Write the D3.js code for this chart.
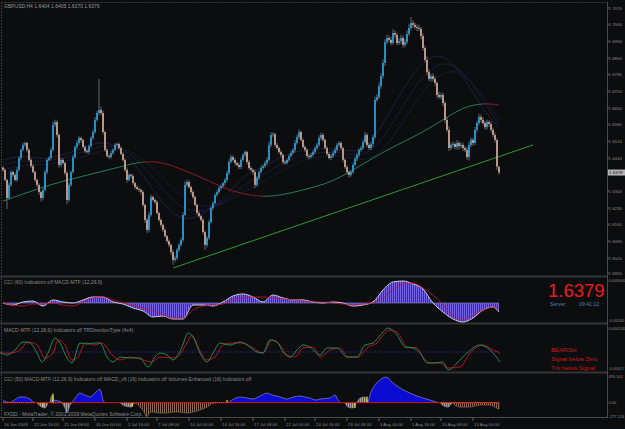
<!DOCTYPE html>
<html><head><meta charset="utf-8">
<script src="https://cdn.jsdelivr.net/npm/d3@7"></script>
<style>body{margin:0;background:#0c0d0f;}svg{display:block;}text{font-family:"Liberation Sans",Arial,sans-serif;}</style>
</head><body><svg id="c" width="625" height="429"></svg>
<script>
// ---------- DATA ----------
const symbolTitle = "GBPUSD,H4  1.6404 1.6405 1.6370 1.6379";
const firstOpen = 1.6400;
const closes = [
1.6390,1.6348,1.6272,1.6327,1.6381,1.6369,1.6348,1.6390,1.6440,1.6474,
1.6495,1.6503,1.6474,1.6432,1.6406,1.6381,1.6348,1.6327,1.6297,1.6272,
1.6306,1.6381,1.6432,1.6440,1.6474,1.6579,1.6591,1.6537,1.6411,1.6432,
1.6419,1.6377,1.6264,1.6327,1.6381,1.6444,1.6486,1.6503,1.6524,1.6516,
1.6486,1.6469,1.6465,1.6490,1.6524,1.6549,1.6600,1.6629,1.6642,1.6629,
1.6549,1.6474,1.6448,1.6444,1.6461,1.6474,1.6495,1.6499,1.6482,1.6457,
1.6432,1.6390,1.6348,1.6369,1.6364,1.6335,1.6318,1.6310,1.6306,1.6297,
1.6243,1.6180,1.6138,1.6201,1.6276,1.6264,1.6255,1.6209,1.6180,1.6159,
1.6138,1.6112,1.6091,1.6075,1.6045,1.6012,1.6020,1.6054,1.6075,1.6096,
1.6201,1.6327,1.6339,1.6318,1.6297,1.6276,1.6243,1.6209,1.6196,1.6180,
1.6129,1.6075,1.6104,1.6171,1.6230,1.6251,1.6285,1.6297,1.6314,1.6322,
1.6335,1.6348,1.6377,1.6423,1.6444,1.6432,1.6419,1.6411,1.6402,1.6432,
1.6453,1.6465,1.6423,1.6398,1.6390,1.6381,1.6327,1.6356,1.6381,1.6398,
1.6406,1.6419,1.6432,1.6495,1.6537,1.6540,1.6495,1.6482,1.6465,1.6453,
1.6423,1.6419,1.6432,1.6448,1.6461,1.6474,1.6503,1.6528,1.6549,1.6516,
1.6486,1.6474,1.6448,1.6444,1.6453,1.6465,1.6482,1.6495,1.6524,1.6537,
1.6516,1.6482,1.6457,1.6440,1.6448,1.6461,1.6474,1.6495,1.6503,1.6482,
1.6432,1.6402,1.6381,1.6369,1.6381,1.6411,1.6436,1.6453,1.6474,1.6482,
1.6507,1.6537,1.6495,1.6482,1.6499,1.6528,1.6684,1.6696,1.6742,1.6784,
1.6839,1.6927,1.6944,1.6936,1.6923,1.6965,1.6957,1.6923,1.6931,1.6944,
1.6915,1.6927,1.6961,1.6986,1.7007,1.6999,1.6990,1.6986,1.6982,1.6952,
1.6902,1.6852,1.6801,1.6772,1.6784,1.6772,1.6755,1.6705,1.6696,1.6705,
1.6671,1.6600,1.6558,1.6482,1.6495,1.6499,1.6486,1.6503,1.6490,1.6495,
1.6482,1.6474,1.6444,1.6495,1.6516,1.6503,1.6558,1.6587,1.6612,1.6600,
1.6587,1.6570,1.6591,1.6583,1.6558,1.6537,1.6516,1.6404,1.6379];
// wick extensions in pips beyond the body
const wickUp = [
6,8,5,10,7,6,9,12,8,7, 10,6,5,8,7,9,6,5,7,6, 8,10,6,9,12,15,10,8,6,9, 7,5,8,10,6,9,7,11,8,6,
5,7,9,6,8,10,12,9,130,14, 10,6,8,7,9,6,8,5,7,9, 6,8,10,7,5,9,6,8,7,6, 8,6,9,12,10,7,6,8,5,7,
6,8,5,7,6,9,10,8,7,9, 12,15,10,8,6,9,7,6,8,5, 7,6,9,10,8,7,6,9,8,7, 6,8,10,12,9,7,8,6,9,10,
8,7,6,9,7,6,10,8,7,9, 8,10,12,14,11,9,7,8,6,9, 7,8,6,9,10,8,12,9,11,7, 6,8,7,9,10,8,7,9,11,10,
8,6,9,7,8,10,12,9,8,7, 6,8,9,7,6,9,10,8,7,9, 10,12,8,9,7,10,14,12,16,13, 15,12,14,10,12,16,11,10,12,14,
10,12,14,18,25,12,10,11,14,9, 12,10,14,11,9,12,10,8,13,9, 10,8,12,14,9,10,8,12,9,11, 10,9,12,14,10,9,12,10,14,11,
12,9,10,8,11,9,10,6,1];
const wickDn = [
8,6,46,7,9,10,6,8,7,9, 6,8,10,7,9,6,8,10,12,14, 9,7,10,6,8,7,9,10,12,8, 7,9,18,10,8,6,7,9,8,10,
6,8,7,9,6,8,7,6,9,8, 10,8,6,9,7,8,6,9,7,6, 8,9,12,7,10,8,9,6,8,10, 9,13,13,10,8,7,9,6,8,10,
9,7,8,10,12,21,9,8,10,7, 8,6,9,7,10,8,6,9,7,8, 9,21,10,8,7,9,6,8,7,9, 8,10,7,9,6,8,10,7,9,8,
6,9,10,8,7,12,14,8,9,6, 8,7,9,6,10,8,9,7,8,10, 9,8,7,9,6,8,10,7,9,8, 7,9,8,10,6,8,7,9,8,10,
9,7,8,6,10,8,9,7,8,9, 10,8,9,12,7,8,6,9,10,8, 9,7,10,8,9,12,10,8,9,11, 10,12,9,11,10,8,12,10,9,11,
12,10,9,8,10,11,9,12,10,14, 12,10,13,9,11,10,12,14,9,10, 12,14,10,13,9,11,10,12,14,10, 12,9,11,14,10,12,9,11,10,12,
9,11,10,12,9,10,12,14,9];
const priceTicks = [1.7070,1.7000,1.6930,1.6860,1.6790,1.6720,1.6650,1.6580,1.6510,1.6440,1.6300,1.6230,1.6160,1.6090,1.6020,1.5955];
const lastPrice = 1.6379;
// moving averages sampled at bar indices
const maIdx = [0,10,20,30,40,50,60,70,80,90,100,110,120,130,140,150,160,170,180,190,200,210,220,230,240,248];
const maSlow = [1.6259,1.6289,1.6318,1.6343,1.6364,1.6385,1.6406,1.6427,1.6423,1.6390,1.6356,1.6314,1.6289,1.6276,1.6285,1.6306,1.6327,1.6364,1.6415,1.6465,1.6507,1.6549,1.6600,1.6654,1.6671,1.6663];
const maDot1 = [1.6432,1.6453,1.6432,1.6453,1.6482,1.6516,1.6474,1.6369,1.6243,1.6171,1.6201,1.6264,1.6369,1.6398,1.6453,1.6474,1.6482,1.6474,1.6461,1.6579,1.6734,1.6852,1.6885,1.6789,1.6642,1.6566];
const maDot2 = [1.6411,1.6432,1.6423,1.6440,1.6465,1.6495,1.6482,1.6411,1.6306,1.6222,1.6213,1.6251,1.6327,1.6369,1.6423,1.6453,1.6465,1.6465,1.6440,1.6516,1.6663,1.6789,1.6852,1.6810,1.6684,1.6579];
const maDot3 = [1.6390,1.6411,1.6411,1.6423,1.6444,1.6474,1.6482,1.6440,1.6356,1.6272,1.6230,1.6243,1.6297,1.6339,1.6390,1.6432,1.6448,1.6453,1.6423,1.6465,1.6591,1.6726,1.6810,1.6801,1.6705,1.6600];
const trendIdx = [85,265];
const trendPrice = [1.5978,1.6495];
// panel 2: MACD histogram + signal (units of 1e-4)
const p2Idx = [0,5,10,15,20,25,30,35,40,45,50,55,60,65,70,75,80,85,90,95,100,105,110,115,120,125,130,135,140,145,150,155,160,165,170,175,180,185,190,195,200,205,210,215,220,225,230,235,240,245,248];
const macdMain = [0,-2.5,1.3,2.5,-3.8,3.8,1.3,0,3.8,7.5, 7.5,1.3,-1.3,-6.3,-10,-17.5,-16.3,-20,-20,-2.5, -2.5,-3.8,1.3,8.8,11.3,7.5,1.3,10,6.3,3.8, 3.8,1.3,0,1.3,0,-3.8,-2.5,1.3,16.3,26.3, 27.5,23.8,17.5,0,-11.3,-20,-23.8,-18.8,-8.8,-5, -11.3];
const macdSignal = [0,-2.5,-3.8,-1.3,-1.3,0,-2.5,-3.8,1.3,6.3, 7.5,3.8,0,-2.5,-6.3,-10,-15,-18.8,-18.8,-8.8, -3.8,-2.5,-1.3,3.8,6.3,7.5,7.5,6.3,5,3.8, 2.5,1.3,1.3,0,-1.3,-2.5,-1.3,0,6.3,17.5, 23.8,25,18.8,10,-2.5,-15,-21.3,-15,-8.8,-5, -6.3];
const p2Labels = ["0.003000","-0.00240"];
// panel 3: MACD-MTF lines [barIndex, value]
const p3Green = [[-1.5,0],[2,-3],[6,2],[10,10],[13.5,9],[17,-1],[19.5,-10],[22.5,-1],[26,14],[28.5,9],[32,-6],[34.5,-11],[38.5,9],[42,8],[46,9],[48.5,9],[52,-5],[55,-10],[58.5,-5],[63.5,-6],[68.5,-6],[72.5,-15],[76,-5],[78.5,-1],[82,-3],[85,-8],[89.5,5],[92.5,19],[95,15],[98.5,-1],[102,-10],[105,-1],[108.5,9],[113.5,7],[118.5,10],[122,7],[127,0],[130,-1],[133.5,12],[137,10],[140,0],[143.5,-5],[147,2],[150,7],[153.5,5],[158.5,-3],[162,4],[167,4],[172,-5],[177,-5],[181,7],[185,9],[189.5,19],[192.5,24],[197,17],[201,5],[205,4],[208.5,-1],[212,-11],[216,-11],[220,-10],[222.5,-18],[227,-11],[232,-1],[238.5,7],[243.5,2],[248.5,-10]];
const p3Red = [[-1.5,-1],[3.5,-1],[8.5,2],[12.5,10],[17,7],[21,-6],[25,-1],[27.5,12],[31,7],[34.5,-8],[37.5,-5],[41,9],[46,7],[49.5,9],[54.5,-3],[58.5,-8],[63.5,-5],[68.5,-7],[74.5,-10],[78.5,-5],[83.5,-6],[87,-5],[92,9],[94.5,17],[97.5,5],[102,-8],[106,-5],[110,7],[115,9],[120,9],[125,4],[130,-1],[134.5,12],[138.5,7],[142,-3],[146,-5],[150,4],[155,5],[158.5,-5],[163.5,2],[168.5,4],[172.5,-5],[177.5,-5],[182.5,5],[187,9],[190,17],[193.5,22],[197.5,19],[202,5],[207,4],[210,-5],[213.5,-11],[218.5,-11],[222.5,-16],[228.5,-15],[233.5,-1],[240,7],[245,2],[248.5,-1]];
const p3Labels = ["0.000240","-0.00017"];
const p3Status = ["BEARISH","Signal below Zero","Trix below Signal"];
// panel 4: histogram regions [barIndex, value]
const p4Blue = [
 [[0,50],[1.5,15],[3.5,5],[5,30],[8.5,110],[11,105],[13.5,70],[15.5,0]],
 [[24.5,0],[26,45],[28.5,20],[29.5,0]],
 [[34.5,0],[36,85],[38.5,185],[41,145],[43.5,110],[46,185],[48.5,260],[50,50],[51,0]],
 [[112.5,0],[114.5,50],[118.5,108],[122,89],[125,69],[128.5,127],[132,185],[134.5,147],[137,127],[140,89],[142,69],[145,108],[148.5,127],[151,108],[153.5,89],[156.5,50],[158.5,69],[163.5,89],[166,147],[167.5,50],[168.5,0]],
 [[182.5,0],[183.5,147],[186,340],[188.5,436],[191.5,494],[194.5,398],[198.5,282],[203.5,185],[208.5,108],[213.5,50],[217.5,0]]];
const p4Gray = [
 [[17,0],[18.5,-66],[21,-104],[22.5,0]],
 [[23.5,0],[24.5,146],[25.5,0]],
 [[29.5,0],[31,-104],[32,-200],[33.5,-46],[34.5,0]],
 [[58.5,0],[61,-66],[64,-85],[65.5,0]],
 [[171,0],[172.5,-85],[175,-104],[176.5,0]],
 [[177,0],[178.5,89],[181,108],[182.5,0]],
 [[218.5,0],[220.5,-66],[222.5,-85],[224.5,0]]];
const p4Brown = [
 [[65,0],[67,-27],[68.5,-85],[70,-143],[72,-270],[73.5,-181],[75,-181],[78.5,-200],[82,-200],[85,-181],[88.5,-181],[92,-200],[95,-181],[98.5,-143],[102,-85],[105,-10],[106,0]],
 [[224.5,0],[226,-46],[228.5,-85],[233.5,-85],[238.5,-46],[243.5,-46],[246,-85],[248,-124],[248,0]]];
const p4Yellow = [[20,0,-85],[25,-10,175],[64.5,-8,-85],[112,0,50],[176,-8,-104],[182,0,120]];
const p4GreenZero = [[0,16],[24,30],[105,113],[219,248]];
const p4Labels = [495.101,0,-277.126];
// time axis
const timeIdx = [0,15,30,46,62,77,93,109,125,141,156,172,188,204,219,235];
const timeLabels = ["16 Jun 2009","22 Jun 16:00","25 Jun 08:00","30 Jun 00:00","2 Jul 16:00","7 Jul 08:00","10 Jul 00:00","14 Jul 16:00","17 Jul 08:00","22 Jul 00:00","24 Jul 16:00","29 Jul 08:00","3 Aug 00:00","5 Aug 16:00","10 Aug 08:00","13 Aug 00:00"];

// ---------- DRAW ----------
const svg = d3.select("#c");
const W = 625, H = 429;
svg.append("rect").attr("width", W).attr("height", H).attr("fill", "#0c0d0f");
const defs = svg.append("defs");
function stripes(id, c1, c2){
  const p = defs.append("pattern").attr("id", id).attr("patternUnits","userSpaceOnUse").attr("width",2).attr("height",4);
  if (c2) p.append("rect").attr("width",2).attr("height",4).attr("fill",c2);
  p.append("rect").attr("width",1).attr("height",4).attr("fill",c1);
}
stripes("hHist", "#7563e6", "#3a2f8c");
stripes("hBrown", "#8c6a4c", null);
stripes("hGray", "#a4a4a4", "#5c5c5c");

const xB = d3.scaleLinear().domain([0,248]).range([3,499]);
const yP = d3.scaleLinear().domain([1.5955,1.7070]).range([273.5,8]);
const axisCol = "#8a8a8a";
function axisText(y, txt, fs){
  svg.append("text").attr("x",608.5).attr("y",y).attr("dy","0.35em").attr("font-size",fs||4).attr("fill",axisCol).text(txt);
}

// frame lines
svg.append("line").attr("x1",1.5).attr("x2",1.5).attr("y1",2).attr("y2",418).attr("stroke","#3a3a3a").attr("stroke-dasharray","2,1");
svg.append("line").attr("x1",1.5).attr("x2",607).attr("y1",2.5).attr("y2",2.5).attr("stroke","#3a3a3a").attr("stroke-dasharray","2,1");
svg.append("line").attr("x1",607.5).attr("x2",607.5).attr("y1",2).attr("y2",418).attr("stroke","#4a4a4a");
[276.5,323.5,372.5].forEach(y=>svg.append("rect").attr("x",0).attr("y",y-1).attr("width",607).attr("height",2).attr("fill","#353535"));
svg.append("line").attr("x1",0).attr("x2",607).attr("y1",417.5).attr("y2",417.5).attr("stroke","#4a4a4a");

// title
svg.append("text").attr("x",4).attr("y",7.5).attr("font-size",5).attr("fill","#9a9a9a").text(symbolTitle);

// main panel
const main = svg.append("g");
const clipM = defs.append("clipPath").attr("id","clipM");
clipM.append("rect").attr("x",2).attr("y",3).attr("width",605).attr("height",272);
const gm = main.append("g").attr("clip-path","url(#clipM)");

// slow MA with slope-based gradient
const slowPts = maIdx.map((d,i)=>[d, maSlow[i]]);
const grad = defs.append("linearGradient").attr("id","gSlow").attr("gradientUnits","userSpaceOnUse")
  .attr("x1",xB(0)).attr("x2",xB(248)).attr("y1",0).attr("y2",0);
const up = "#1f7d55", dn = "#8a1a24";
let prevUp = maSlow[1] > maSlow[0];
grad.append("stop").attr("offset",0).attr("stop-color", prevUp?up:dn);
for (let i=1;i<maSlow.length-1;i++){
  const u = maSlow[i+1] > maSlow[i];
  if (u !== prevUp){
    const off = (maIdx[i])/248;
    grad.append("stop").attr("offset",off-0.01).attr("stop-color", prevUp?up:dn);
    grad.append("stop").attr("offset",off+0.01).attr("stop-color", u?up:dn);
    prevUp = u;
  }
}
grad.append("stop").attr("offset",1).attr("stop-color", prevUp?up:dn);
const lineP = d3.line().x(d=>xB(d[0])).y(d=>yP(d[1])).curve(d3.curveBasis);
[maDot1, maDot2, maDot3].forEach((arr,k)=>{
  gm.append("path").attr("d", lineP(maIdx.map((d,i)=>[d,arr[i]]))).attr("fill","none")
    .attr("stroke", ["#3a3a8c","#32327a","#2c2c6a"][k]).attr("stroke-width",0.8).attr("stroke-dasharray","1.2,1.3");
});
gm.append("path").attr("d", lineP(slowPts)).attr("fill","none").attr("stroke","url(#gSlow)").attr("stroke-width",1);

// trend line
gm.append("line").attr("x1",xB(trendIdx[0])).attr("y1",yP(trendPrice[0])).attr("x2",xB(trendIdx[1])).attr("y2",yP(trendPrice[1]))
  .attr("stroke","#2f9a2f").attr("stroke-width",1);

// candles
const bars = closes.map((c,i)=>{
  const o = i ? closes[i-1] : firstOpen;
  return {i, o, c, h: Math.max(o,c)+wickUp[i]*1e-4, l: Math.min(o,c)-wickDn[i]*1e-4};
});
gm.selectAll("line.wick").data(bars).join("line").attr("class","wick")
  .attr("x1",d=>xB(d.i)).attr("x2",d=>xB(d.i)).attr("y1",d=>yP(d.h)).attr("y2",d=>yP(d.l))
  .attr("stroke","#8e8e8e").attr("stroke-width",0.7);
gm.selectAll("rect.body").data(bars).join("rect").attr("class","body")
  .attr("x",d=>xB(d.i)-0.8).attr("width",1.6)
  .attr("y",d=>yP(Math.max(d.o,d.c))).attr("height",d=>Math.max(0.7, Math.abs(yP(d.o)-yP(d.c))))
  .attr("fill",d=>d.c>=d.o ? "#22a6ec" : "#d9ad9b");

// price axis
priceTicks.forEach(p=>{
  svg.append("line").attr("x1",607).attr("x2",609).attr("y1",yP(p)).attr("y2",yP(p)).attr("stroke","#555");
  axisText(yP(p), p.toFixed(4), 4.4);
});
svg.append("rect").attr("x",608).attr("y",yP(lastPrice)-3).attr("width",17).attr("height",6).attr("fill","#b4b4b4");
svg.append("text").attr("x",609).attr("y",yP(lastPrice)).attr("dy","0.35em").attr("font-size",4.4).attr("fill","#111").text(lastPrice.toFixed(4));

// ---------- panel 2 ----------
const y2 = d3.scaleLinear().domain([-24,30]).range([322.2,279]);
const p2main = p2Idx.map((d,i)=>[d, macdMain[i]]);
const p2sig = p2Idx.map((d,i)=>[d, macdSignal[i]]);
const c2 = d3.curveMonotoneX;
svg.append("path").attr("d", d3.area().x(d=>xB(d[0])).y0(y2(0)).y1(d=>y2(d[1])).curve(c2)(p2main)).attr("fill","url(#hHist)");
svg.append("line").attr("x1",xB(0)).attr("x2",xB(248)).attr("y1",y2(0)).attr("y2",y2(0)).attr("stroke","#8a86c8").attr("stroke-width",0.6);
svg.append("path").attr("d", d3.line().x(d=>xB(d[0])).y(d=>y2(d[1])).curve(c2)(p2main)).attr("fill","none").attr("stroke","#c8c8dc").attr("stroke-width",1);
svg.append("path").attr("d", d3.line().x(d=>xB(d[0])).y(d=>y2(d[1])).curve(c2)(p2sig)).attr("fill","none").attr("stroke","#c8143c").attr("stroke-width",0.8);
svg.append("text").attr("x",4).attr("y",283.5).attr("font-size",5).attr("fill","#8a8a8a").text("CCI (60)    Indicators off    MACD-MTF (12,26,9)");
axisText(281, p2Labels[0]);
axisText(321, p2Labels[1]);
svg.append("text").attr("x",548).attr("y",297).attr("font-size",18.5).attr("fill","#ee1a1a").text(lastPrice.toFixed(4));
svg.append("text").attr("x",550).attr("y",305.5).attr("font-size",5.2).attr("fill","#5b7ea8").text("Server:");
svg.append("text").attr("x",579).attr("y",305.5).attr("font-size",5.2).attr("fill","#5b7ea8").text("09:41:12");

// ---------- panel 3 ----------
const y3 = d3.scaleLinear().domain([-17,24]).range([369,328]);
const l3 = d3.line().x(d=>xB(d[0])).y(d=>y3(d[1])).curve(d3.curveMonotoneX);
svg.append("line").attr("x1",xB(0)).attr("x2",xB(248)).attr("y1",y3(0)).attr("y2",y3(0)).attr("stroke","#3535c8").attr("stroke-width",0.7).attr("stroke-dasharray","1.5,1.5");
svg.append("path").attr("d", l3(p3Red)).attr("fill","none").attr("stroke","#c8102a").attr("stroke-width",0.9);
svg.append("path").attr("d", l3(p3Green)).attr("fill","none").attr("stroke","#1f9a5c").attr("stroke-width",0.9);
svg.append("text").attr("x",4).attr("y",332).attr("font-size",5).attr("fill","#8a8a8a").text("MACD-MTF (12,26,9)    Indicators off    TRDirectionType (4x4)");
axisText(329, p3Labels[0]);
axisText(369, p3Labels[1]);
p3Status.forEach((t,i)=>svg.append("text").attr("x",551).attr("y",352+i*9).attr("font-size",5.8).attr("fill","#d01818").text(t));

// ---------- panel 4 ----------
const y4 = d3.scaleLinear().domain([-277.126,495.101]).range([417,377]);
const a4 = d3.area().x(d=>xB(d[0])).y0(y4(0)).y1(d=>y4(d[1])).curve(d3.curveMonotoneX);
const l4 = d3.line().x(d=>xB(d[0])).y(d=>y4(d[1])).curve(d3.curveMonotoneX);
p4Brown.forEach(seg=>{
  svg.append("path").attr("d",a4(seg)).attr("fill","url(#hBrown)");
  svg.append("path").attr("d",l4(seg)).attr("fill","none").attr("stroke","#8a7a6a").attr("stroke-width",0.6);
});
p4Gray.forEach(seg=>{
  svg.append("path").attr("d",a4(seg)).attr("fill","url(#hGray)");
  svg.append("path").attr("d",l4(seg)).attr("fill","none").attr("stroke","#9a9aa8").attr("stroke-width",0.6);
});
p4Blue.forEach(seg=>{
  svg.append("path").attr("d",a4(seg)).attr("fill","#0b0bd2");
  svg.append("path").attr("d",l4(seg)).attr("fill","none").attr("stroke","#9a9ad8").attr("stroke-width",0.6);
});
p4Yellow.forEach(d=>svg.append("line").attr("x1",xB(d[0])).attr("x2",xB(d[0])).attr("y1",y4(d[1])).attr("y2",y4(d[2])).attr("stroke","#f0e010").attr("stroke-width",1.2));
svg.append("line").attr("x1",xB(0)).attr("x2",xB(248)).attr("y1",y4(0)).attr("y2",y4(0)).attr("stroke","#e01212").attr("stroke-width",1);
p4GreenZero.forEach(r=>svg.append("line").attr("x1",xB(r[0])).attr("x2",xB(r[1])).attr("y1",y4(0)).attr("y2",y4(0)).attr("stroke","#18c018").attr("stroke-width",1).attr("stroke-dasharray","1,1"));
svg.append("text").attr("x",4).attr("y",380.5).attr("font-size",5).attr("fill","#8a8a8a").text("CCI (50)    MACD-MTF (12,26,9)    Indicators off    MACD_v6 (16)    Indicators off    Volumes Enhanced (16)    Indicators off");
svg.append("text").attr("x",4).attr("y",416).attr("font-size",5).attr("fill","#8a8a8a").text("FXDD - MetaTrader, © 2001-2009 MetaQuotes Software Corp.");
p4Labels.forEach(v=>axisText(y4(v), v===0?"0.00":v.toFixed(3)));

// ---------- time axis ----------
timeIdx.forEach((t,i)=>{
  const x = xB(t);
  svg.append("line").attr("x1",x).attr("x2",x).attr("y1",418).attr("y2",421).attr("stroke","#666");
  svg.append("text").attr("x",x+1).attr("y",426).attr("font-size",4.3).attr("fill","#8a8a8a").text(timeLabels[i]);
});
</script></body></html>
